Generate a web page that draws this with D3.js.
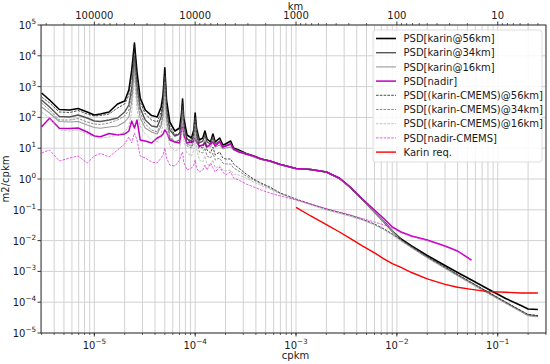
<!DOCTYPE html>
<html><head><meta charset="utf-8">
<script src="https://cdn.jsdelivr.net/npm/d3@7"></script>
<style>
body{margin:0;background:#fff}
svg{display:block}
text{font-family:"DejaVu Sans",sans-serif;fill:#1a1a1a}
</style>
</head><body><div id="chart"></div>
<script>
// ---------- data (cpkm, m2/cpkm) ----------
const freq = [3.0e-6, 3.6e-6, 4.5e-6, 5.7e-6, 6.9e-6, 8.5e-6, 1.0e-5, 1.15e-5, 1.4e-5, 1.7e-5,
  2.0e-5, 2.2e-5, 2.35e-5, 2.5e-5, 2.65e-5, 2.85e-5, 3.2e-5, 3.7e-5, 4.2e-5, 4.6e-5,
  4.8e-5, 5.0e-5, 5.2e-5, 5.6e-5, 6.3e-5, 7.0e-5, 7.3e-5, 7.5e-5, 7.7e-5, 8.3e-5,
  9.2e-5, 9.7e-5, 1.0e-4, 1.03e-4, 1.1e-4, 1.19e-4, 1.25e-4, 1.31e-4, 1.42e-4, 1.5e-4,
  1.58e-4, 1.75e-4, 1.88e-4, 2.0e-4, 2.25e-4, 2.4e-4, 2.7e-4, 3.2e-4, 3.8e-4, 4.5e-4,
  5.5e-4, 7.0e-4, 1.0e-3, 1.4e-3, 2.0e-3, 2.7e-3, 3.5e-3, 4.5e-3, 6.0e-3, 7.5e-3,
  9.0e-3, 1.1e-2, 1.4e-2, 2.0e-2, 3.0e-2, 4.0e-2, 5.5e-2, 8.0e-2, 0.12, 0.17,
  0.2, 0.25];

const karin56 = [619, 367, 180, 174, 195, 150, 120, 129, 150, 272,
  340, 776, 3460, 2.6e4, 2980, 427, 174, 115, 103, 218,
  533, 4110, 367, 71, 36.1, 45.3, 120, 395, 95.7, 26.8,
  21.4, 39.0, 139, 45.3, 18.5, 21.4, 36.1, 19.9, 15.9, 28.9,
  15.9, 21.4, 12.7, 13.7, 17.1, 10.1, 8.75, 6.73, 5.58, 4.46,
  3.84, 2.96, 2.19, 2.03, 1.69, 1.04, 0.511, 0.224, 0.0849, 0.0402,
  0.0205, 0.01127, 0.00668, 0.00328, 0.00156, 9.2e-4, 5.26e-4, 2.69e-4, 1.32e-4, 7.82e-5,
  6.01e-5, 5.79e-5];

const karin34 = [367, 218, 107, 103, 120, 95.7, 76.4, 73.6, 82.4, 95.7,
  150, 253, 902, 9860, 1045, 202, 82.4, 52.6, 48.8, 103,
  234, 2210, 174, 39.0, 24.9, 28.9, 71.0, 234, 56.6, 19.9,
  17.1, 28.9, 95.7, 33.6, 14.8, 17.1, 26.8, 15.9, 13.7, 23.1,
  13.7, 17.1, 10.9, 11.8, 13.7, 9.42, 8.11, 6.49, 5.38, 4.46,
  3.84, 2.96, 2.19, 2.03, 1.69, 1.04, 0.511, 0.224, 0.0849, 0.0402,
  0.0205, 0.01045, 0.00619, 0.00294, 0.00134, 7.64e-4, 4.20e-4, 2.07e-4, 9.77e-5, 5.18e-5,
  3.84e-5, 3.56e-5];

const karin16 = [218, 139, 73.6, 71.0, 73.6, 56.6, 47.0, 44.3, 48.8, 52.6,
  71.0, 103, 316, 4020, 367, 95.7, 45.3, 33.6, 28.9, 52.6,
  111, 902, 82.4, 21.4, 15.9, 18.5, 39.0, 129, 33.6, 13.7,
  11.8, 18.5, 61.1, 21.4, 10.9, 12.7, 18.5, 11.8, 10.9, 17.1,
  10.9, 12.7, 9.42, 10.1, 10.9, 8.75, 7.82, 6.49, 5.18, 4.30,
  3.70, 2.85, 2.19, 2.03, 1.69, 1.04, 0.511, 0.224, 0.0849, 0.0402,
  0.0205, 0.01007, 0.00597, 0.00283, 0.00129, 7.36e-4, 4.05e-4, 1.99e-4, 9.42e-5, 4.99e-5,
  3.70e-5, 3.44e-5];

const nadir = [49.9, 93.5, 44.3, 43.6, 45.3, 33.6, 24.9, 23.6, 30.0, 26.8,
  28.9, 36.1, 76.4, 45.3, 82.4, 18.5, 17.1, 14.8, 21.4, 24.9,
  28.9, 39.0, 33.6, 18.5, 15.9, 14.8, 39.0, 56.6, 26.8, 14.8,
  15.9, 17.1, 21.4, 15.9, 11.8, 12.7, 14.8, 10.9, 13.7, 15.9,
  11.8, 15.9, 10.9, 11.8, 13.7, 9.42, 7.53, 6.49, 5.58, 4.46,
  3.84, 2.96, 2.19, 2.03, 1.69, 1.08, 0.530, 0.233, 0.0986, 0.0502,
  0.0277, 0.0190, 0.0141, 0.01045, 0.00668, 0.00459, 0.00234];

const diff56 = [459, 294, 150, 144, 167, 129, 111, 115, 129, 202,
  272, 533, 2560, 2.08e4, 2210, 316, 129, 82.4, 71.0, 150,
  367, 3210, 272, 52.6, 26.8, 31.2, 82.4, 316, 65.8, 18.5,
  14.8, 24.9, 95.7, 28.9, 10.9, 10.1, 15.9, 8.75, 6.98, 10.9,
  6.01, 7.53, 4.81, 4.46, 4.46, 3.07, 2.28, 1.45, 1.00, 0.741,
  0.550, 0.351, 0.224, 0.154, 0.106, 0.0817, 0.0653, 0.0502, 0.0346, 0.0238,
  0.0164, 0.01086, 0.00643, 0.00305, 0.00139, 7.93e-4, 4.37e-4, 2.14e-4, 1.01e-4, 5.38e-5,
  3.99e-5, 3.70e-5];

const diff34 = [294, 174, 82.4, 82.4, 92.0, 71.0, 61.1, 58.7, 65.8, 82.4,
  111, 174, 575, 6290, 668, 139, 61.1, 39.0, 33.6, 65.8,
  150, 1410, 111, 24.9, 15.9, 18.5, 45.3, 174, 36.1, 11.8,
  10.1, 15.9, 61.1, 18.5, 7.53, 6.98, 10.1, 5.58, 4.81, 6.98,
  4.14, 4.81, 3.30, 3.07, 3.07, 2.28, 1.82, 1.25, 0.929, 0.689,
  0.511, 0.338, 0.216, 0.149, 0.102, 0.0787, 0.0630, 0.0484, 0.0333, 0.0229,
  0.0158, 0.01007, 0.00597, 0.00283, 0.00129, 7.36e-4, 4.05e-4, 1.99e-4, 9.42e-5, 4.99e-5,
  3.70e-5, 3.44e-5];

const diff16 = [150, 95.7, 39.0, 36.1, 39.0, 28.9, 23.1, 20.9, 23.1, 26.8,
  33.6, 52.6, 150, 1900, 174, 52.6, 28.9, 18.5, 15.9, 28.9,
  61.1, 495, 45.3, 11.8, 8.11, 9.42, 21.4, 82.4, 18.5, 6.98,
  5.58, 8.75, 33.6, 10.1, 4.14, 3.56, 5.58, 3.07, 2.64, 4.14,
  2.28, 2.64, 1.96, 1.82, 1.96, 1.45, 1.35, 1.08, 0.800, 0.615,
  0.473, 0.326, 0.208, 0.143, 0.0986, 0.0759, 0.0605, 0.0467, 0.0321, 0.0221,
  0.0152, 0.00970, 0.00575, 0.00272, 0.00124, 7.10e-4, 3.90e-4, 1.91e-4, 9.08e-5, 4.81e-5,
  3.56e-5, 3.30e-5];

const nadirDiff = [6.98, 8.75, 3.84, 4.81, 5.58, 3.30, 5.58, 6.82, 5.18, 8.75,
  13.7, 23.1, 14.8, 31.2, 18.5, 5.58, 4.81, 3.56, 3.30, 4.81,
  6.01, 10.1, 4.81, 2.85, 2.64, 4.14, 6.49, 7.53, 3.56, 1.96,
  2.28, 2.85, 4.14, 2.28, 1.69, 1.96, 2.85, 1.96, 3.30, 2.28,
  1.69, 2.45, 1.69, 1.35, 1.69, 1.08, 0.929, 0.689, 0.550, 0.440,
  0.351, 0.281, 0.208, 0.154, 0.110, 0.0849, 0.0678, 0.0522, 0.0402, 0.0321,
  0.0256, 0.0183, 0.0136, 0.01007, 0.00643, 0.00443, 0.00226];

const reqFreq = [1e-3, 1.4e-3, 2e-3, 2.7e-3, 3.5e-3, 4.5e-3, 6e-3, 7.5e-3, 9e-3, 1.1e-2,
  1.4e-2, 2e-2, 3e-2, 4e-2, 5.5e-2, 8e-2, 0.12, 0.17, 0.25];
const karinReq = [0.12, 0.063, 0.033, 0.019, 0.0114, 0.0069, 0.0040, 0.0025, 0.0018, 0.00134,
  9.2e-4, 5.7e-4, 3.8e-4, 3.05e-4, 2.6e-4, 2.2e-4, 2.1e-4, 2.0e-4, 2.0e-4];

const seriesNames = ["PSD[karin@56km]", "PSD[karin@34km]", "PSD[karin@16km]", "PSD[nadir]",
  "PSD[(karin-CMEMS)@56km]", "PSD[(karin-CMEMS)@34km]", "PSD[(karin-CMEMS)@16km]",
  "PSD[nadir-CMEMS]", "Karin req."];

const xTickExps = [-5, -4, -3, -2, -1];
const yTickExps = [-5, -4, -3, -2, -1, 0, 1, 2, 3, 4, 5];
const kmTicks = [100000, 10000, 1000, 100, 10];

// ---------- layout ----------
const W = 550, H = 364;
const L = 41, R = 546, T = 25, B = 333;
const FS = 10;

const svg = d3.select("#chart").append("svg").attr("width", W).attr("height", H);

const x = d3.scaleLog().domain([2.96e-6, 0.301]).range([L, R]);
const y = d3.scaleLog().domain([1e-5, 1e5]).range([B, T]);

// grid
const gridG = svg.append("g");
const minorX = [];
for (let e = -6; e <= 0; e++) for (let m = 1; m <= 9; m++) {
  const v = m * Math.pow(10, e);
  if (v >= x.domain()[0] && v <= x.domain()[1]) minorX.push(v);
}
gridG.selectAll("line.gx").data(minorX).join("line")
  .attr("x1", d => x(d)).attr("x2", d => x(d)).attr("y1", T).attr("y2", B)
  .attr("stroke", "#d2d2d2").attr("stroke-width", 1);
gridG.selectAll("line.gy").data(yTickExps).join("line")
  .attr("x1", L).attr("x2", R).attr("y1", d => y(Math.pow(10, d))).attr("y2", d => y(Math.pow(10, d)))
  .attr("stroke", "#d2d2d2").attr("stroke-width", 1);

// clip
svg.append("clipPath").attr("id", "clip").append("rect")
  .attr("x", L).attr("y", T).attr("width", R - L).attr("height", B - T);

const series = [
  {vals: karin56, f: freq, color: "#000000", w: 1.6, dash: null},
  {vals: karin34, f: freq, color: "#555555", w: 1.4, dash: null},
  {vals: karin16, f: freq, color: "#9a9a9a", w: 1.1, dash: null},
  {vals: nadir, f: freq, color: "#bf00bf", w: 1.5, dash: null},
  {vals: diff56, f: freq, color: "#222222", w: 0.8, dash: "2.6,1.2"},
  {vals: diff34, f: freq, color: "#6e6e6e", w: 0.8, dash: "2.6,1.2"},
  {vals: diff16, f: freq, color: "#b4b4b4", w: 0.8, dash: "2.6,1.2"},
  {vals: nadirDiff, f: freq, color: "#e633e6", w: 0.8, dash: "2.6,1.2"},
  {vals: karinReq, f: reqFreq, color: "#ff0000", w: 1.4, dash: null}
];

const line = d3.line().x(d => x(d[0])).y(d => y(d[1]));
const plotG = svg.append("g").attr("clip-path", "url(#clip)");
series.forEach(s => {
  const pts = s.vals.map((v, i) => [s.f[i], v]);
  plotG.append("path").datum(pts).attr("d", line)
    .attr("fill", "none").attr("stroke", s.color).attr("stroke-width", s.w)
    .attr("stroke-linejoin", "round")
    .attr("stroke-dasharray", s.dash);
});

// spines
svg.append("rect").attr("x", L).attr("y", T).attr("width", R - L).attr("height", B - T)
  .attr("fill", "none").attr("stroke", "#222").attr("stroke-width", 0.9);

// helper for 10^n labels
function powLabel(sel, e) {
  sel.append("tspan").text("10");
  sel.append("tspan").attr("dy", -5).attr("font-size", 7.2).text(e < 0 ? "\u2212" + (-e) : String(e));
}

// bottom axis
const axG = svg.append("g");
axG.selectAll("line.bmin").data(minorX).join("line")
  .attr("x1", d => x(d)).attr("x2", d => x(d)).attr("y1", B).attr("y2", B + 2)
  .attr("stroke", "#222").attr("stroke-width", 0.7);
xTickExps.forEach(e => {
  const px = x(Math.pow(10, e));
  axG.append("line").attr("x1", px).attr("x2", px).attr("y1", B).attr("y2", B + 3.5)
    .attr("stroke", "#222").attr("stroke-width", 0.9);
  const t = axG.append("text").attr("x", px).attr("y", B + 16).attr("text-anchor", "middle")
    .attr("font-size", FS);
  powLabel(t, e);
});
svg.append("text").attr("x", (L + R) / 2 + 2).attr("y", 359).attr("text-anchor", "middle")
  .attr("font-size", FS).text("cpkm");

// left axis
yTickExps.forEach(e => {
  const py = y(Math.pow(10, e));
  axG.append("line").attr("x1", L - 3.5).attr("x2", L).attr("y1", py).attr("y2", py)
    .attr("stroke", "#222").attr("stroke-width", 0.9);
  const t = axG.append("text").attr("x", L - 5).attr("y", py + 4).attr("text-anchor", "end")
    .attr("font-size", FS);
  powLabel(t, e);
});
svg.append("text").attr("transform", `translate(9,${(T + B) / 2}) rotate(-90)`)
  .attr("text-anchor", "middle").attr("font-size", FS).text("m2/cpkm");

// top axis (km)
const kmMinor = [];
for (let e = 0; e <= 6; e++) for (let m = 2; m <= 9; m++) {
  const km = m * Math.pow(10, e);
  const f = 1 / km;
  if (f >= x.domain()[0] && f <= x.domain()[1]) kmMinor.push(km);
}
axG.selectAll("line.tmin").data(kmMinor).join("line")
  .attr("x1", d => x(1 / d)).attr("x2", d => x(1 / d)).attr("y1", T - 2).attr("y2", T)
  .attr("stroke", "#222").attr("stroke-width", 0.7);
kmTicks.forEach(km => {
  const px = x(1 / km);
  axG.append("line").attr("x1", px).attr("x2", px).attr("y1", T - 3.5).attr("y2", T)
    .attr("stroke", "#222").attr("stroke-width", 0.9);
  axG.append("text").attr("x", px).attr("y", T - 6).attr("text-anchor", "middle")
    .attr("font-size", FS).text(String(km));
});
svg.append("text").attr("x", (L + R) / 2 + 2).attr("y", 9.5).attr("text-anchor", "middle")
  .attr("font-size", FS).text("km");

// legend
const lg = svg.append("g");
lg.append("rect").attr("x", 373).attr("y", 30).attr("width", 169).attr("height", 132)
  .attr("rx", 2.5).attr("fill", "#fff").attr("fill-opacity", 0.85)
  .attr("stroke", "#d6d6d6").attr("stroke-width", 0.8);
seriesNames.forEach((name, i) => {
  const s = series[i];
  const cy = 38.5 + i * 14.2;
  lg.append("line").attr("x1", 376).attr("x2", 396).attr("y1", cy).attr("y2", cy)
    .attr("stroke", s.color).attr("stroke-width", s.w)
    .attr("stroke-dasharray", s.dash);
  lg.append("text").attr("x", 403.5).attr("y", cy + 3.6).attr("font-size", FS).text(name);
});
</script>
</body></html>
